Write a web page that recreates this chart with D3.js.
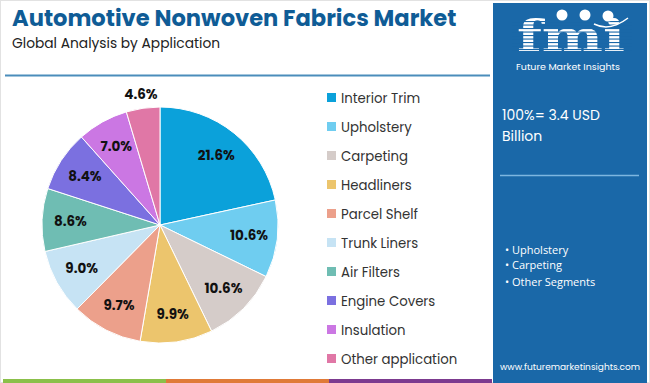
<!DOCTYPE html>
<html>
<head>
<meta charset="utf-8">
<script src="https://cdn.jsdelivr.net/npm/d3@7"></script>
<style>
  body { margin: 0; background: #fff; }
  svg { display: block; font-family: "Poppins", "Lato", "Open Sans", sans-serif; }
</style>
</head>
<body>
<div id="chart"></div>
<script>
const width = 650, height = 383;

// data
const categories = ["Interior Trim", "Upholstery", "Carpeting", "Headliners", "Parcel Shelf",
    "Trunk Liners", "Air Filters", "Engine Covers", "Insulation", "Other application"];
const shares = [21.6, 10.6, 10.6, 9.9, 9.7, 9.0, 8.6, 8.4, 7.0, 4.6];
const colors = ["#0ba1da", "#6fcdf0", "#d5ccc9", "#ecc56d", "#eca08b",
    "#c6e3f4", "#6fbdb3", "#7b70e0", "#cb77e3", "#e077a6"];
const segments = ["Upholstery", "Carpeting", "Other Segments"];
const totalText = ["100%= 3.4 USD", "Billion"];

const svg = d3.select("#chart").append("svg")
    .attr("width", width)
    .attr("height", height);

// outer frame
svg.append("rect")
    .attr("x", 0.5).attr("y", 0.5)
    .attr("width", width - 1).attr("height", height - 1)
    .attr("fill", "#fff").attr("stroke", "#e2e2e2");

// title
svg.append("text")
    .attr("x", 12).attr("y", 26)
    .attr("font-size", 22.6).attr("font-weight", 700)
    .attr("fill", "#0f5c96")
    .text("Automotive Nonwoven Fabrics Market");

svg.append("text")
    .attr("x", 12).attr("y", 47.5)
    .attr("font-size", 13.8)
    .attr("fill", "#222")
    .text("Global Analysis by Application");

svg.append("line")
    .attr("x1", 5).attr("x2", 490)
    .attr("y1", 75.5).attr("y2", 75.5)
    .attr("stroke", "#4b8dbb").attr("stroke-width", 2);

// pie
const cx = 160, cy = 225, radius = 118;
const color = d3.scaleOrdinal().domain(categories).range(colors);
const pie = d3.pie().sort(null).value(d => d.value);
const arc = d3.arc().innerRadius(0).outerRadius(radius);
const labelArc = d3.arc().innerRadius(radius * 0.76).outerRadius(radius * 0.76);
const outerArc = d3.arc().innerRadius(radius * 1.12).outerRadius(radius * 1.12);

const data = categories.map((c, i) => ({name: c, value: shares[i]}));
const arcs = pie(data);

const g = svg.append("g").attr("transform", "translate(" + cx + "," + cy + ")");

g.selectAll("path")
    .data(arcs)
    .enter().append("path")
    .attr("d", arc)
    .attr("fill", d => color(d.data.name))
    .attr("stroke", "#fff")
    .attr("stroke-width", 1);

g.selectAll("text.pct")
    .data(arcs)
    .enter().append("text")
    .attr("class", "pct")
    .attr("transform", d => {
        const p = d.data.value < 5 ? outerArc.centroid(d) : labelArc.centroid(d);
        return "translate(" + p + ")";
    })
    .attr("text-anchor", "middle")
    .attr("dy", "0.35em")
    .attr("font-size", 13.5).attr("font-weight", 700)
    .attr("fill", "#111")
    .text(d => d.data.value.toFixed(1) + "%");

// legend
const legend = svg.append("g").attr("transform", "translate(327,98)");
const rowH = 29;
const item = legend.selectAll("g")
    .data(categories)
    .enter().append("g")
    .attr("transform", (d, i) => "translate(0," + i * rowH + ")");

item.append("rect")
    .attr("x", 0).attr("y", -5)
    .attr("width", 9).attr("height", 9)
    .attr("fill", d => color(d));

item.append("text")
    .attr("x", 14).attr("dy", "0.35em")
    .attr("font-size", 13.3)
    .attr("fill", "#333")
    .text(d => d);

// bottom strip
const stripColors = ["#8bc04a", "#e07a38", "#7c3a8f"];
const stripX = d3.scaleLinear().domain([0, 3]).range([3, 492]);
svg.selectAll("rect.strip")
    .data(stripColors)
    .enter().append("rect")
    .attr("class", "strip")
    .attr("x", (d, i) => stripX(i))
    .attr("y", 379)
    .attr("width", (d, i) => stripX(i + 1) - stripX(i))
    .attr("height", 4)
    .attr("fill", d => d);

// right panel
const panelX = 493, panelW = 154;
svg.append("rect")
    .attr("x", panelX).attr("y", 3)
    .attr("width", panelW).attr("height", height - 3)
    .attr("fill", "#1a68a8");

// logo
const logo = svg.append("g");
logo.append("text")
    .attr("x", 517).attr("y", 51)
    .attr("font-family", "DejaVu Serif, serif")
    .attr("font-size", 42).attr("font-weight", 700)
    .attr("textLength", 108)
    .attr("lengthAdjust", "spacingAndGlyphs")
    .attr("fill", "#fff")
    .text("fmi");
// stripes across the letters
d3.range(0, 9).forEach(i => {
    logo.append("rect")
        .attr("x", 512).attr("y", 21 + i * 3.5)
        .attr("width", 120).attr("height", 1.1)
        .attr("fill", "#1a68a8");
});
[[562, 15], [585, 15], [608, 16]].forEach(p => {
    logo.append("circle")
        .attr("cx", p[0]).attr("cy", p[1]).attr("r", 5.5)
        .attr("fill", "#fff");
});
logo.append("path")
    .attr("d", "M594,24 Q610,32 628,18")
    .attr("fill", "none").attr("stroke", "#fff").attr("stroke-width", 1.5);
logo.append("text")
    .attr("x", 568).attr("y", 70)
    .attr("text-anchor", "middle")
    .attr("font-size", 9.5)
    .attr("fill", "#fff")
    .text("Future Market Insights");

svg.selectAll("text.total")
    .data(totalText)
    .enter().append("text")
    .attr("class", "total")
    .attr("x", 502)
    .attr("y", (d, i) => 120 + i * 21)
    .attr("font-size", 14)
    .attr("fill", "#fff")
    .text(d => d);

svg.append("line")
    .attr("x1", 500).attr("x2", 639)
    .attr("y1", 175.5).attr("y2", 175.5)
    .attr("stroke", "#7db6e0").attr("stroke-width", 1.5);

svg.selectAll("text.seg")
    .data(segments)
    .enter().append("text")
    .attr("class", "seg")
    .attr("x", 505)
    .attr("y", (d, i) => 254 + i * 15 + (i === 2 ? 2 : 0))
    .attr("font-family", "Open Sans, sans-serif")
    .attr("font-size", 11)
    .attr("fill", "#fff")
    .text(d => "\u2022 " + d);

svg.append("text")
    .attr("x", 570).attr("y", 370)
    .attr("text-anchor", "middle")
    .attr("font-size", 9)
    .attr("fill", "#fff")
    .text("www.futuremarketinsights.com");
</script>
</body>
</html>
